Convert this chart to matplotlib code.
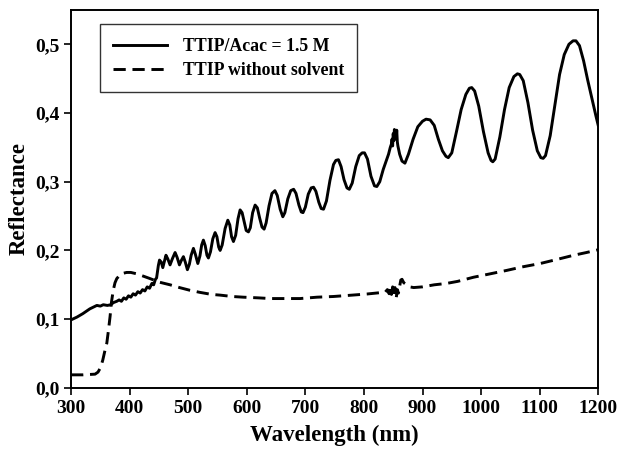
import matplotlib
matplotlib.use('Agg')
import matplotlib.pyplot as plt
from matplotlib.ticker import FuncFormatter, MultipleLocator

# Reflectance spectra
acac_wl = [300, 310, 320, 332, 344, 350, 355, 362, 368, 372, 378, 382, 386, 390,
           394, 398, 402, 406, 410, 414, 418, 422, 426, 430, 434, 438, 441, 444,
           446, 449, 451, 454, 456.6, 459, 462, 465, 469, 473, 477.6, 481, 485,
           488, 491.8, 495, 498.6, 502, 505, 508.9, 512, 516.4, 520, 523, 525.9,
           529, 532, 534.5, 538, 542, 545.9, 549, 552, 554.5, 558, 563, 567.6,
           571, 574, 577.2, 581, 585, 588.6, 592, 596, 599, 602.8, 606, 610,
           614.2, 618, 622, 626, 629.6, 633, 638, 643, 648, 652, 657, 661.5, 665,
           670, 675, 680, 684, 689, 693, 696, 700, 705, 710, 714, 718, 723, 727,
           731, 736, 742, 748, 752, 756.5, 761, 766, 771, 775, 780, 786, 792, 797,
           801, 806, 812, 818, 822, 827, 833, 838, 842, 845, 847, 848, 849, 850,
           851, 852, 853, 854, 855, 856, 857, 858, 861, 865, 870, 876, 884, 892,
           900, 906, 913, 920, 927, 934, 940, 944, 950, 958, 966, 974, 980, 984,
           989, 996, 1004, 1012, 1017, 1020, 1024, 1032, 1040, 1048, 1056, 1062,
           1066, 1072, 1080, 1088, 1096, 1102, 1106, 1110, 1118, 1126, 1134, 1142,
           1150, 1157, 1162, 1168, 1175, 1182, 1190, 1196, 1200]
acac_r = [0.099, 0.103, 0.108, 0.115, 0.120, 0.119, 0.121, 0.120, 0.121, 0.124,
          0.126, 0.128, 0.126, 0.131, 0.129, 0.134, 0.132, 0.137, 0.135, 0.140,
          0.138, 0.143, 0.141, 0.147, 0.145, 0.152, 0.150, 0.158, 0.160, 0.178,
          0.186, 0.183, 0.175, 0.183, 0.193, 0.188, 0.179, 0.188, 0.197, 0.190,
          0.179, 0.185, 0.191, 0.183, 0.172, 0.180, 0.193, 0.203, 0.195, 0.181,
          0.192, 0.208, 0.215, 0.207, 0.193, 0.189, 0.198, 0.217, 0.226, 0.220,
          0.205, 0.200, 0.208, 0.232, 0.244, 0.237, 0.220, 0.213, 0.222, 0.246,
          0.259, 0.255, 0.240, 0.229, 0.227, 0.233, 0.255, 0.266, 0.262, 0.247,
          0.234, 0.231, 0.240, 0.265, 0.283, 0.287, 0.280, 0.260, 0.249, 0.255,
          0.275, 0.287, 0.289, 0.283, 0.266, 0.256, 0.255, 0.263, 0.282, 0.291,
          0.292, 0.286, 0.270, 0.261, 0.260, 0.272, 0.302, 0.325, 0.331, 0.332,
          0.322, 0.303, 0.291, 0.289, 0.298, 0.322, 0.338, 0.342, 0.342, 0.333,
          0.308, 0.294, 0.293, 0.300, 0.318, 0.330, 0.340, 0.350, 0.355, 0.362,
          0.352, 0.370, 0.360, 0.376, 0.368, 0.374, 0.362, 0.375, 0.358, 0.352,
          0.340, 0.330, 0.327, 0.340, 0.362, 0.380, 0.388, 0.391, 0.390, 0.382,
          0.362, 0.345, 0.337, 0.335, 0.342, 0.373, 0.405, 0.427, 0.436, 0.437,
          0.432, 0.410, 0.373, 0.342, 0.331, 0.329, 0.333, 0.365, 0.405, 0.437,
          0.453, 0.457, 0.456, 0.447, 0.415, 0.375, 0.345, 0.335, 0.334, 0.338,
          0.367, 0.412, 0.456, 0.485, 0.500, 0.505, 0.505, 0.498, 0.476, 0.448,
          0.418, 0.396, 0.382]

pure_wl = [300, 320, 341, 346, 350, 354, 358, 361, 364, 366.6, 369, 372, 375,
           378, 384, 390, 395, 402, 412, 422, 435, 450, 469, 485, 503, 520, 540,
           554.5, 575, 594, 620, 640, 665, 691, 720, 748, 780, 805, 827, 836, 840,
           843, 845, 847, 849, 851, 853, 855, 857, 859, 861, 863, 865, 868, 873,
           878, 885, 900, 920, 941, 960, 987, 1010, 1044, 1070, 1101, 1130, 1158,
           1180, 1200]
pure_r = [0.019, 0.019, 0.020, 0.023, 0.029, 0.040, 0.055, 0.065, 0.085, 0.104,
          0.125, 0.142, 0.153, 0.159, 0.165, 0.167, 0.168, 0.168, 0.166, 0.163,
          0.159, 0.154, 0.150, 0.146, 0.142, 0.139, 0.136, 0.135, 0.133, 0.132,
          0.131, 0.130, 0.130, 0.130, 0.132, 0.133, 0.135, 0.1366, 0.1385, 0.139,
          0.143, 0.137, 0.145, 0.136, 0.147, 0.134, 0.146, 0.130, 0.143, 0.138,
          0.148, 0.157, 0.158, 0.153, 0.150, 0.147, 0.146, 0.147, 0.150, 0.152,
          0.155, 0.161, 0.165, 0.171, 0.176, 0.181, 0.187, 0.193, 0.197, 0.201]

labels = ['TTIP/Acac = 1.5 M', 'TTIP without solvent']

plt.rcParams['font.family'] = ['Liberation Serif', 'DejaVu Serif']
plt.rcParams['font.weight'] = 'bold'

fig = plt.figure(figsize=(6.18, 4.5), dpi=100)
ax = fig.add_axes([0.115, 0.138, 0.853, 0.840])

ax.plot(acac_wl, acac_r, color='black', lw=2.1, label=labels[0])
ax.plot(pure_wl, pure_r, color='black', lw=2.1, dashes=(4.2, 2.3), label=labels[1])

ax.set_xlim(300, 1200)
ax.set_ylim(0, 0.55)
ax.xaxis.set_major_locator(MultipleLocator(100))
ax.yaxis.set_major_locator(MultipleLocator(0.1))
ax.yaxis.set_major_formatter(FuncFormatter(lambda v, p: f'{v:.1f}'.replace('.', ',')))

ax.tick_params(direction='out', length=5, width=1.2, labelsize=14, top=False, right=False)
for s in ax.spines.values():
    s.set_linewidth(1.4)

ax.set_xlabel('Wavelength (nm)', fontsize=16.5, fontweight='bold', labelpad=6)
ax.set_ylabel('Reflectance', fontsize=16.5, fontweight='bold', labelpad=4)

leg = ax.legend(loc='upper left', bbox_to_anchor=(0.038, 0.985), fontsize=12.8,
                frameon=True, fancybox=False, handlelength=3.0, borderpad=0.75,
                labelspacing=0.4, handletextpad=0.9)
leg.get_frame().set_edgecolor('black')
leg.get_frame().set_linewidth(1.0)

fig.savefig('out.png', dpi=100)
